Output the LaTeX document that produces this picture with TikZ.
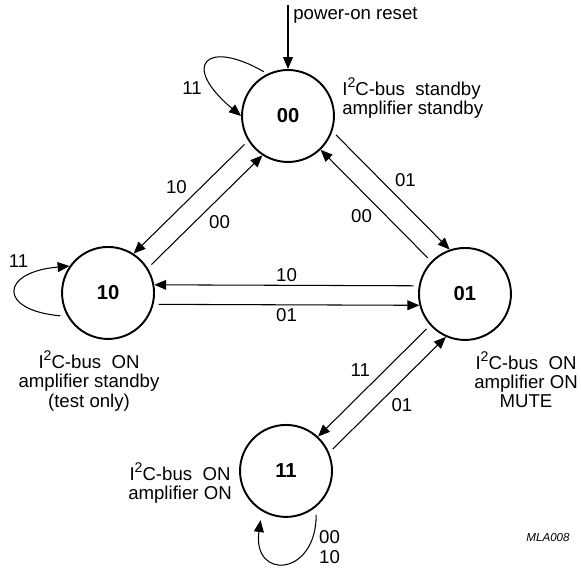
\documentclass[tikz,border=0pt]{standalone}
\usepackage{fontspec}
\setmainfont{Liberation Sans}
\usetikzlibrary{positioning,arrows.meta}
\newcommand{\sqr}{\raisebox{0.42em}{\fontsize{8}{8}\selectfont 2}}
\tikzset{
	state/.style={draw, circle, line width=1.1pt, minimum size=1.84cm, inner sep=0pt, font=\fontsize{11.5}{12}\selectfont\bfseries},
	trans/.style={line width=0.6pt, -{Triangle[length=6.8pt,width=5.6pt]}, shorten <=0.1cm},
	lbl/.style={font=\fontsize{10.6}{11.3}\selectfont, inner sep=2pt},
	desc/.style={align=center, inner sep=0pt, font=\fontsize{10.6}{10.9}\selectfont},
}
\begin{document}
\begin{tikzpicture}[x=0.02cm, y=0.02cm]
	\useasboundingbox (0,0) rectangle (581,571);
	\node[state] (n00) at (288,455) {00};
	\node[state, on grid, below left=3.54cm and 3.6cm of n00] (n10) {10};
	\node[state, on grid, below right=3.56cm and 3.54cm of n00] (n01) {01};
	\node[state, on grid, below left=3.54cm and 3.58cm of n01] (n11) {11};
	\coordinate (reset) at (288,566);

	\draw[trans, shorten <=0pt] (reset) -- (n00.north);
	\node[lbl, anchor=west, inner sep=0pt] (resetlbl) at (293,556) {power-on reset};

	\draw[trans] (n00.212.5) -- node[lbl, above left] {10} (n10.57.5);
	\draw[trans] (n10.32.5) -- node[lbl, below right] {00} (n00.237.5);
	\draw[trans] (n00.341) -- node[lbl, above right] {01} (n01.109);
	\draw[trans] (n01.136) -- node[lbl, below left] {00} (n00.314);
	\draw[trans] (n01.170) -- node[lbl, above] {10} (n10.10);
	\draw[trans] (n10.-14) -- node[lbl, below] {01} (n01.194);
	\draw[trans] (n01.222.5) -- node[lbl, above left] {11} (n11.47.5);
	\draw[trans] (n11.23.3) -- node[lbl, below right] {01} (n01.246.7);

	\draw[trans, shorten <=0.08cm] (n00.116) .. controls +(150:70) and +(140:80) .. node[lbl, pos=0.8, left=5pt] {11} (n00.180);
	\draw[trans, shorten <=0.14cm] (n10.210) .. controls +(175:70) and +(185:70) .. node[lbl, pos=0.72, above left=3pt and -3pt] {11} (n10.145);
	\draw[trans, shorten <=0.16cm, shorten >=0.18cm] (n11.-50) .. controls +(-90:70) and +(-98:70) .. node[lbl, pos=0.25, right=5pt, align=left] {00\\10} (n11.239);

	\node[desc, anchor=west, align=left] (t00) at (342,472.5) {I\sqr C-bus\ \ standby\\amplifier standby};
	\node[desc] (t10) at (89,190) {I\sqr C-bus\ \ ON\\amplifier standby\\(test only)};
	\node[desc] (t01) at (526,191) {I\sqr C-bus\ \ ON\\amplifier ON\\MUTE};
	\node[desc] (t11) at (180,88) {I\sqr C-bus\ \ ON\\amplifier ON};
	\node[inner sep=0pt, font=\fontsize{6.6}{7}\selectfont\itshape] (code) at (548,33) {MLA008};
\end{tikzpicture}
\end{document}
